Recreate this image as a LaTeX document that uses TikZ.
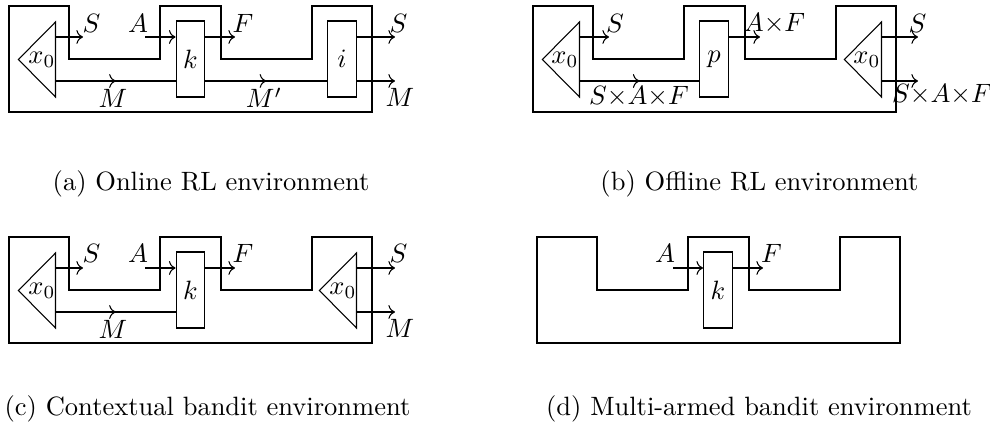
\documentclass[tikz,border=0pt]{standalone}
\usepackage{amsmath,amssymb}
\usepackage{tikz}
\usetikzlibrary{arrows.meta, shapes.geometric, decorations.markings, calc}

% outline of one environment, with the two slots on top
\newcommand{\envframe}{%
  \draw (0,0) -- (60,0) -- (60,53) -- (151,53) -- (151,0) -- (212,0) -- (212,53)
    -- (303,53) -- (303,0) -- (363,0) -- (363,106) -- (0,106) -- cycle;}

\tikzset{
  blk/.style={draw, minimum width=10.9pt, minimum height=28.7pt, inner sep=0pt},
  src/.style={draw, isosceles triangle, shape border rotate=180,
    isosceles triangle stretches, minimum width=28.3pt, minimum height=14pt,
    inner sep=0pt, anchor=apex},
  mid/.style={postaction={decorate}, decoration={markings,
    mark=at position 0.5 with {\arrow{>}}}},
  lbl/.style={inner sep=0pt}
}

\begin{document}
\begin{tikzpicture}[x=0.3774pt, y=-0.3774pt]
  \useasboundingbox (0,0) rectangle (990,428);
  % (a) online RL
  \begin{scope}[shift={(9,6)}]
    \envframe
    \coordinate (a-up) at (0,31);
    \coordinate (a-lo) at (0,75);
    \node[src] (a-x0) at (8,53.5) {};
    \node[lbl] (a-lx0) at ($(a-x0.lower side)+(-14,0)$) {$x_0$};
    \node[blk] (a-k) at (181.5,53) {$k$};
    \node[blk] (a-i) at (333,53) {$i$};
    \coordinate (a-s) at (74,31);
    \coordinate (a-a) at (136,31);
    \coordinate (a-f) at (226,31);
    \coordinate (a-so) at (386,31);
    \coordinate (a-mo) at (386,75);
    \draw[->] (a-x0.lower side |- a-up) -- (a-s);
    \draw[->] (a-a) -- (a-k.west |- a-up);
    \draw[->] (a-k.east |- a-up) -- (a-f);
    \draw[mid] (a-x0.lower side |- a-lo) -- (a-k.west |- a-lo);
    \draw[mid] (a-k.east |- a-lo) -- (a-i.west |- a-lo);
    \draw[->] (a-i.east |- a-up) -- (a-so);
    \draw[->] (a-i.east |- a-lo) -- (a-mo);
    \node[lbl] (a-ls) at (82.5,17.5) {$S$};
    \node[lbl] (a-la) at (129,17.5) {$A$};
    \node[lbl] (a-lf) at (234,17.5) {$F$};
    \node[lbl] (a-lm) at (104,92) {$M$};
    \node[lbl] (a-lm2) at (255,92) {$M'$};
    \node[lbl] (a-lso) at (389.5,17.5) {$S$};
    \node[lbl] (a-lmo) at (391,91) {$M$};
  \end{scope}
  % (b) offline RL
  \begin{scope}[shift={(533,6)}]
    \envframe
    \coordinate (b-up) at (0,31);
    \coordinate (b-lo) at (0,75);
    \node[src] (b-x0) at (8,53.5) {};
    \node[lbl] (b-lx0) at ($(b-x0.lower side)+(-15,0)$) {$x_0$};
    \node[blk] (b-p) at (181,53) {$p$};
    \node[src] (b-x1) at (310,53.5) {};
    \node[lbl] (b-lx1) at ($(b-x1.lower side)+(-15,0)$) {$x_0$};
    \coordinate (b-s) at (76,31);
    \coordinate (b-af) at (227,31);
    \coordinate (b-so) at (385,31);
    \coordinate (b-to) at (385,75);
    \draw[->] (b-x0.lower side |- b-up) -- (b-s);
    \draw[mid] (b-x0.lower side |- b-lo) -- (b-p.west |- b-lo);
    \draw[->] (b-p.east |- b-up) -- (b-af);
    \draw[->] (b-x1.lower side |- b-up) -- (b-so);
    \draw[->] (b-x1.lower side |- b-lo) -- (b-to);
    \node[lbl] (b-ls) at (82,17.5) {$S$};
    \node[lbl] (b-laf) at (241.5,17.5) {$A{\times}F$};
    \node[lbl] (b-lt) at (106,91) {$S{\times}A{\times}F$};
    \node[lbl] (b-lso) at (384.5,17.5) {$S$};
    \node[lbl] (b-lto) at (409,89) {$S{\times}A{\times}F$};
  \end{scope}
  % (c) contextual bandit
  \begin{scope}[shift={(9,237)}]
    \envframe
    \coordinate (c-up) at (0,31);
    \coordinate (c-lo) at (0,75);
    \node[src] (c-x0) at (8,53.5) {};
    \node[lbl] (c-lx0) at ($(c-x0.lower side)+(-14,0)$) {$x_0$};
    \node[blk] (c-k) at (181.5,53) {$k$};
    \node[src] (c-x1) at (309,53.5) {};
    \node[lbl] (c-lx1) at ($(c-x1.lower side)+(-14,0)$) {$x_0$};
    \coordinate (c-s) at (74,31);
    \coordinate (c-a) at (136,31);
    \coordinate (c-f) at (226,31);
    \coordinate (c-so) at (386,31);
    \coordinate (c-mo) at (386,75);
    \draw[->] (c-x0.lower side |- c-up) -- (c-s);
    \draw[->] (c-a) -- (c-k.west |- c-up);
    \draw[->] (c-k.east |- c-up) -- (c-f);
    \draw[mid] (c-x0.lower side |- c-lo) -- (c-k.west |- c-lo);
    \draw[->] (c-x1.lower side |- c-up) -- (c-so);
    \draw[->] (c-x1.lower side |- c-lo) -- (c-mo);
    \node[lbl] (c-ls) at (82.5,16.5) {$S$};
    \node[lbl] (c-la) at (129,16.5) {$A$};
    \node[lbl] (c-lf) at (234,16.5) {$F$};
    \node[lbl] (c-lm) at (104,92) {$M$};
    \node[lbl] (c-lso) at (389.5,16.5) {$S$};
    \node[lbl] (c-lmo) at (391,91) {$M$};
  \end{scope}
  % (d) multi-armed bandit
  \begin{scope}[shift={(537,237)}]
    \envframe
    \coordinate (d-up) at (0,31);
    \node[blk] (d-k) at (181,53) {$k$};
    \coordinate (d-a) at (136,31);
    \coordinate (d-f) at (226,31);
    \draw[->] (d-a) -- (d-k.west |- d-up);
    \draw[->] (d-k.east |- d-up) -- (d-f);
    \node[lbl] (d-la) at (128,16.5) {$A$};
    \node[lbl] (d-lf) at (234.5,16.5) {$F$};
  \end{scope}
  % captions
  \node (cap-a) at (211,184) {(a) Online RL environment};
  \node (cap-b) at (759.5,184) {(b) Offline RL environment};
  \node (cap-c) at (207.5,409) {(c) Contextual bandit environment};
  \node (cap-d) at (759,409) {(d) Multi-armed bandit environment};
\end{tikzpicture}
\end{document}
